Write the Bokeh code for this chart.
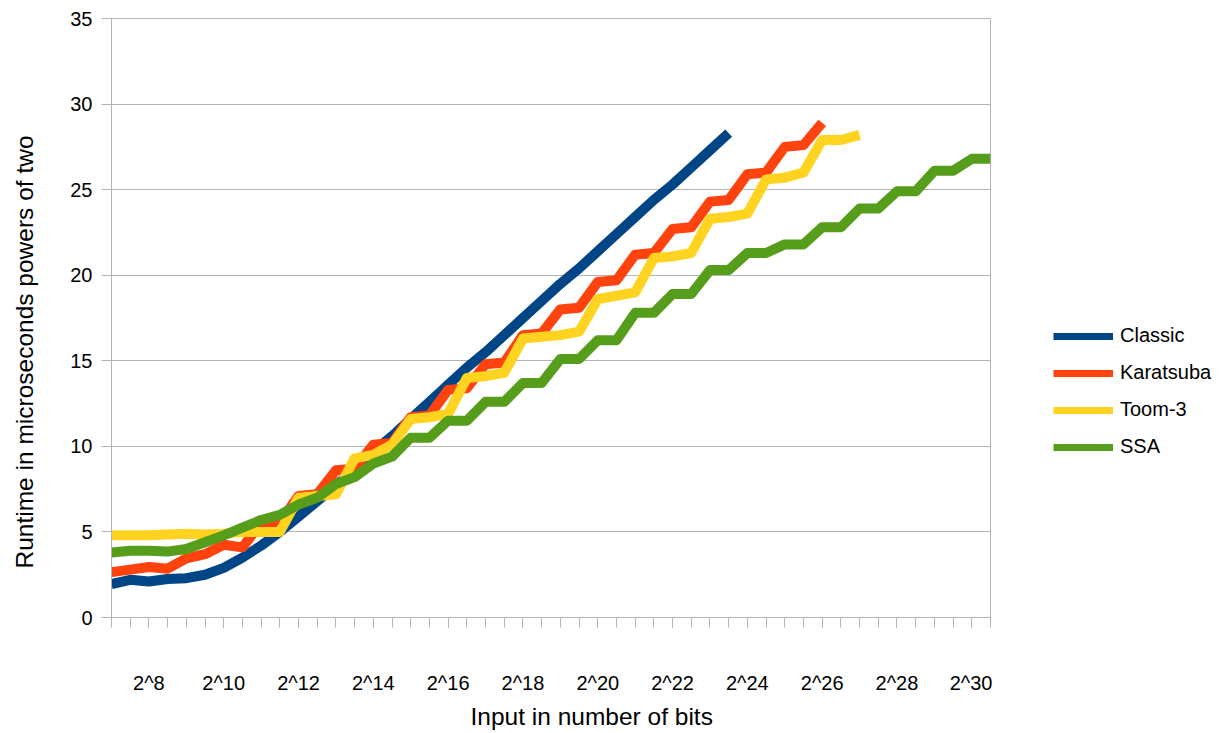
from bokeh.plotting import figure
from bokeh.models import Range1d, FixedTicker, Legend, LegendItem, Title
from bokeh.layouts import row
from bokeh.embed import file_html
from bokeh.resources import INLINE

# x categories: input size as power-of-two exponent (half steps)
exponents = [7.0, 7.5, 8.0, 8.5, 9.0, 9.5, 10.0, 10.5, 11.0, 11.5, 12.0, 12.5,
             13.0, 13.5, 14.0, 14.5, 15.0, 15.5, 16.0, 16.5, 17.0, 17.5, 18.0, 18.5,
             19.0, 19.5, 20.0, 20.5, 21.0, 21.5, 22.0, 22.5, 23.0, 23.5, 24.0, 24.5,
             25.0, 25.5, 26.0, 26.5, 27.0, 27.5, 28.0, 28.5, 29.0, 29.5, 30.0, 30.5]

classic = [1.95, 2.2, 2.1, 2.25, 2.3, 2.5, 2.9, 3.5, 4.2, 5.0, 5.9, 6.8,
           7.7, 8.7, 9.7, 10.6, 11.6, 12.6, 13.6, 14.6, 15.5, 16.5, 17.5, 18.5,
           19.5, 20.4, 21.4, 22.4, 23.4, 24.4, 25.3, 26.3, 27.3, 28.3]

karatsuba = [2.65, 2.8, 2.95, 2.85, 3.45, 3.7, 4.25, 4.1, 5.5, 5.55, 7.1, 7.2,
             8.6, 8.7, 10.1, 10.2, 11.7, 11.8, 13.3, 13.4, 14.8, 14.9, 16.5, 16.6,
             18.0, 18.1, 19.6, 19.7, 21.2, 21.3, 22.7, 22.8, 24.3, 24.4, 25.9, 26.0,
             27.5, 27.6, 28.9]

toom3 = [4.8, 4.8, 4.8, 4.85, 4.9, 4.85, 4.9, 5.0, 5.0, 5.0, 7.0, 7.1,
         7.2, 9.3, 9.5, 10.1, 11.6, 11.7, 11.9, 14.0, 14.1, 14.3, 16.3, 16.4,
         16.5, 16.7, 18.6, 18.8, 19.0, 21.0, 21.1, 21.3, 23.3, 23.4, 23.6, 25.6,
         25.7, 26.0, 27.9, 27.9, 28.2]

ssa = [3.8, 3.9, 3.9, 3.85, 4.0, 4.4, 4.8, 5.25, 5.7, 6.0, 6.6, 7.0,
       7.8, 8.2, 9.0, 9.4, 10.5, 10.5, 11.5, 11.5, 12.6, 12.6, 13.7, 13.7,
       15.1, 15.1, 16.2, 16.2, 17.8, 17.8, 18.9, 18.9, 20.3, 20.3, 21.3, 21.3,
       21.8, 21.8, 22.8, 22.8, 23.9, 23.9, 24.9, 24.9, 26.1, 26.1, 26.8, 26.8]

series_names = ["Classic", "Karatsuba", "Toom-3", "SSA"]
series_values = [classic, karatsuba, toom3, ssa]
colors = ["#004586", "#ff420e", "#ffd320", "#579d1c"]

label_ticks = [8, 10, 12, 14, 16, 18, 20, 22, 24, 26, 28, 30]
tick_labels = ["2^8", "2^10", "2^12", "2^14", "2^16", "2^18", "2^20",
               "2^22", "2^24", "2^26", "2^28", "2^30"]
y_ticks = [0, 5, 10, 15, 20, 25, 30, 35]

x_title = "Input in number of bits"
y_title = "Runtime in microseconds powers of two"

FONT = "Liberation Sans"
GRID = "#b3b3b3"


def blank_fig(width):
    f = figure(width=width, height=733, output_backend="svg", toolbar_location=None,
               x_range=Range1d(0, 1), y_range=Range1d(0, 1),
               x_axis_location=None, y_axis_location=None, min_border=0)
    f.outline_line_color = None
    f.grid.visible = False
    f.background_fill_color = "white"
    f.border_fill_color = "white"
    return f


# ---- y-axis title strip on the left
yfig = blank_fig(50)
yt = Title(text=y_title, align="left", offset=49, standoff=20,
           vertical_align="top",
           text_font=FONT, text_font_size="24.5px", text_font_style="normal",
           text_color="#000000")
yfig.add_layout(yt, "left")

# ---- main chart
p = figure(width=942, height=733, output_backend="svg", toolbar_location=None,
           x_range=Range1d(exponents[0], exponents[-1]), y_range=Range1d(0, 35),
           min_border_left=61, min_border_right=2, min_border_top=18,
           min_border_bottom=116)
p.background_fill_color = "white"
p.border_fill_color = "white"
p.outline_line_color = GRID

for name, vals, col in zip(series_names, series_values, colors):
    p.line(exponents[:len(vals)], vals, line_color=col, line_width=10,
           line_join="round", line_cap="butt")

xa = p.xaxis[0]
xa.ticker = FixedTicker(ticks=label_ticks, minor_ticks=exponents)
xa.major_label_overrides = {t: l for t, l in zip(label_ticks, tick_labels)}
xa.axis_line_color = GRID
xa.major_tick_line_color = GRID
xa.minor_tick_line_color = GRID
xa.major_tick_out = 10
xa.major_tick_in = 0
xa.minor_tick_out = 10
xa.minor_tick_in = 0
xa.major_label_standoff = 44
xa.major_label_text_font = FONT
xa.major_label_text_font_size = "20px"
xa.major_label_text_color = "#000000"

ya = p.yaxis[0]
ya.ticker = FixedTicker(ticks=y_ticks, minor_ticks=[])
ya.axis_line_color = GRID
ya.major_tick_line_color = GRID
ya.major_tick_out = 10
ya.major_tick_in = 0
ya.minor_tick_line_color = None
ya.major_label_standoff = 9
ya.major_label_text_font = FONT
ya.major_label_text_font_size = "20px"
ya.major_label_text_color = "#000000"

xt = Title(text=x_title, align="left", offset=359, standoff=8,
           text_font=FONT, text_font_size="24.5px", text_font_style="normal",
           text_color="#000000")
p.add_layout(xt, "below")

p.xgrid.grid_line_color = None
p.ygrid.grid_line_color = GRID
p.ygrid.ticker = FixedTicker(ticks=y_ticks)

# ---- legend strip on the right
lg = blank_fig(239)
items = []
for name, col in zip(series_names, colors):
    r = lg.line([float("nan")], [float("nan")], line_color=col, line_width=7)
    items.append(LegendItem(label=name, renderers=[r]))

legend = Legend(items=items, location=(61, 159), orientation="vertical",
                glyph_width=60, glyph_height=20, label_height=20,
                label_standoff=7, spacing=14, padding=0, margin=0,
                label_text_font=FONT, label_text_font_size="20px",
                label_text_color="#000000",
                background_fill_alpha=0, border_line_alpha=0)
lg.add_layout(legend, "center")

layout = row(yfig, p, lg, spacing=0)

open("out.html", "w").write(file_html(layout, INLINE))
